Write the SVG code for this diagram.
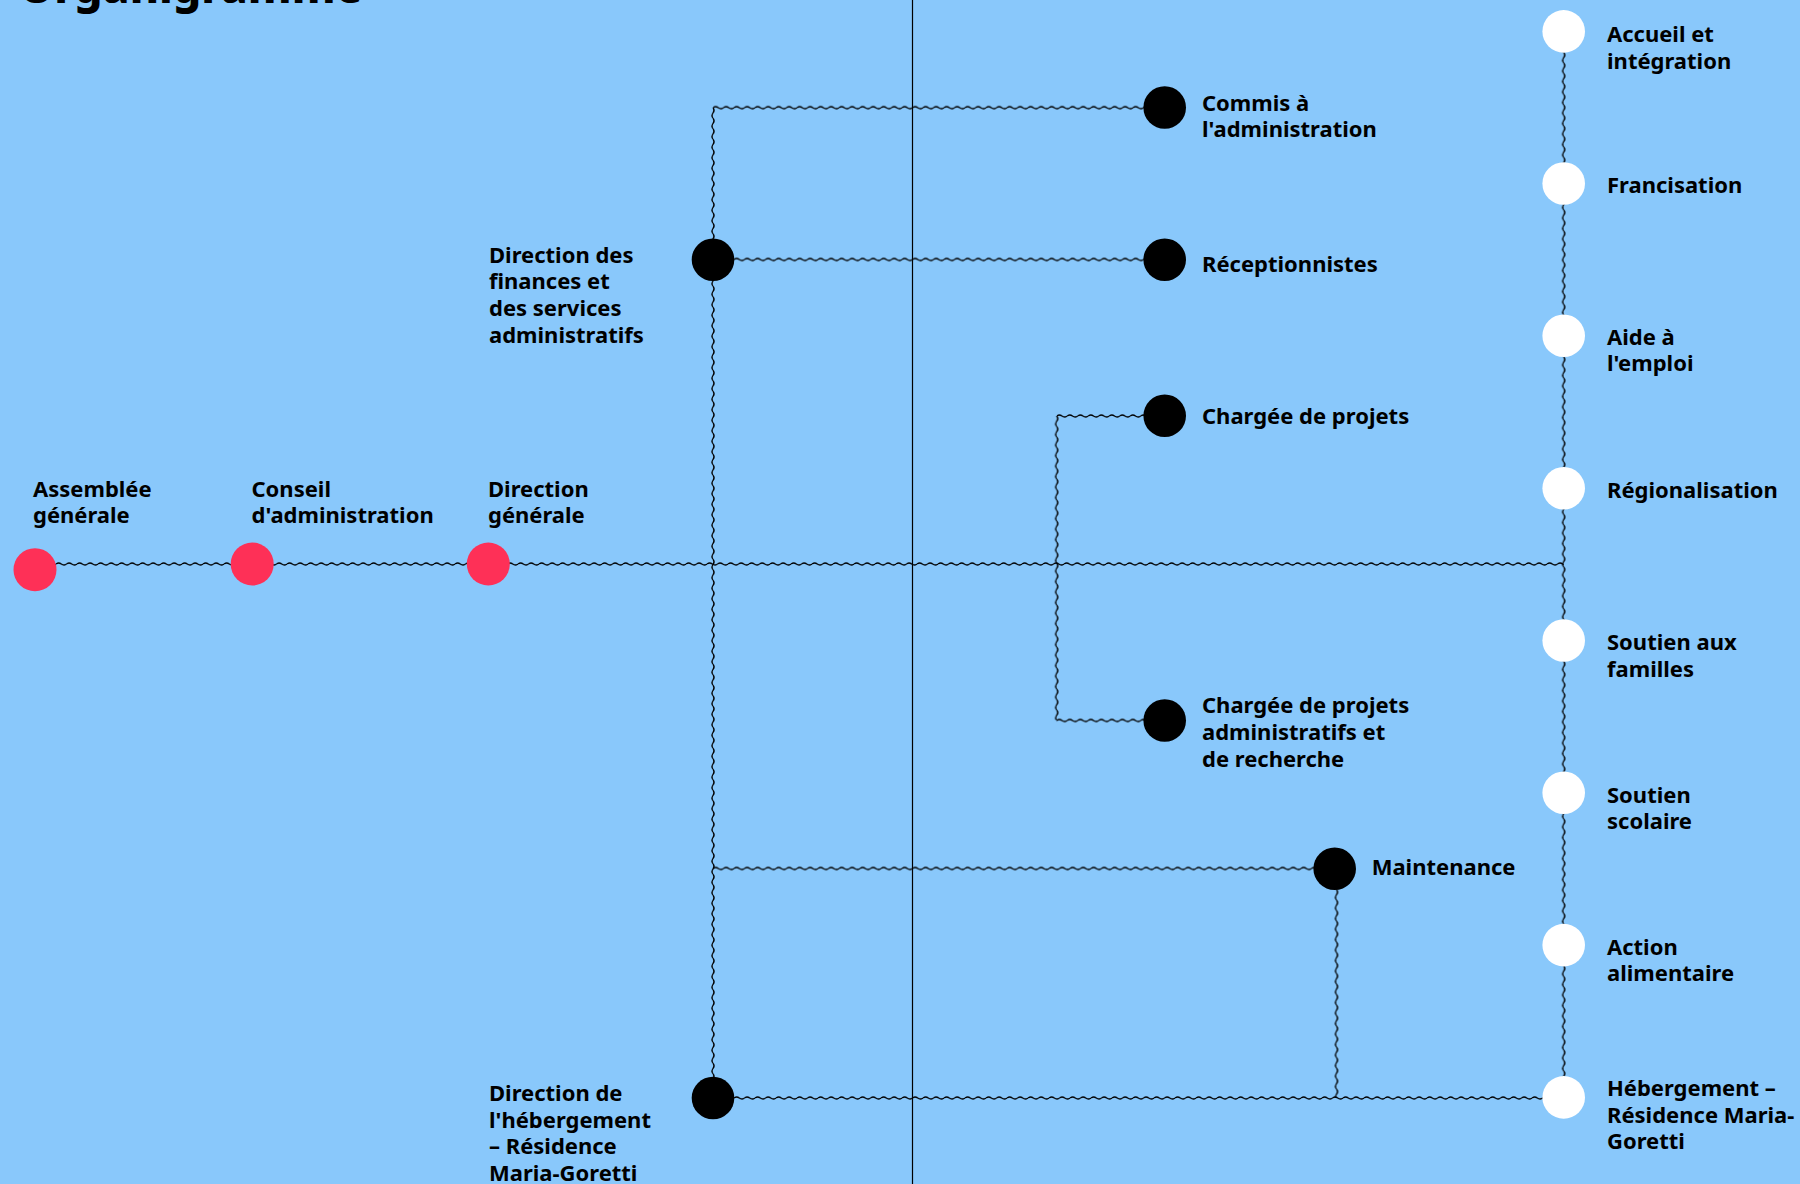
<svg xmlns="http://www.w3.org/2000/svg" width="1800" height="1184" viewBox="0 0 1800 1184">
<defs>
<pattern id="wv" patternUnits="userSpaceOnUse" x="0" y="-3" width="10.5" height="6">
<path d="M0,3 Q2.625,1 5.25,3 T10.5,3" fill="none" stroke="#000" stroke-width="1.3"/>
</pattern>
<style>
.w{stroke:url(#wv);stroke-width:6;stroke-linecap:butt;fill:none}
.t{font-family:"Noto Sans","Open Sans","DejaVu Sans",sans-serif;font-weight:700;font-size:22px;fill:#000}
.red{fill:#FE3057}
.blk{fill:#000}
.wht{fill:#fff}
</style>
</defs>
<rect width="1800" height="1184" fill="#89C8FB"/>
<text x="19" y="3" class="t" style="font-size:44.5px;font-weight:800">Organigramme</text>
<line x1="912.5" y1="0" x2="912.5" y2="1184" stroke="#000" stroke-width="1.2"/>
<g id="connectors">
<line x1="0" y1="0" x2="1528.7" y2="0" transform="translate(35,564)" class="w"/>
<line x1="0" y1="0" x2="990.3" y2="0" transform="translate(713,107.7) rotate(90)" class="w"/>
<line x1="0" y1="0" x2="451.7" y2="0" transform="translate(713,107.7)" class="w"/>
<line x1="0" y1="0" x2="451.7" y2="0" transform="translate(713,259.5)" class="w"/>
<line x1="0" y1="0" x2="108" y2="0" transform="translate(1056.7,416)" class="w"/>
<line x1="0" y1="0" x2="304.5" y2="0" transform="translate(1056.7,416) rotate(90)" class="w"/>
<line x1="0" y1="0" x2="108" y2="0" transform="translate(1056.7,720.5)" class="w"/>
<line x1="0" y1="0" x2="621.7" y2="0" transform="translate(713,868.5)" class="w"/>
<line x1="0" y1="0" x2="229.5" y2="0" transform="translate(1336.5,868.5) rotate(90)" class="w"/>
<line x1="0" y1="0" x2="850.7" y2="0" transform="translate(713,1098)" class="w"/>
<line x1="0" y1="0" x2="1066.3" y2="0" transform="translate(1563.7,31.4) rotate(90)" class="w"/>
</g>
<g id="assemblee"><circle cx="35" cy="569.7" r="21.5" class="red"/><text class="t" x="33" y="496.5">Assemblée<tspan x="33" dy="26">générale</tspan></text></g>
<g id="conseil"><circle cx="252.2" cy="564" r="21.5" class="red"/><text class="t" x="251.5" y="496.5">Conseil<tspan x="251.5" dy="26">d'administration</tspan></text></g>
<g id="direction-generale"><circle cx="488.3" cy="564" r="21.5" class="red"/><text class="t" x="488" y="496.5">Direction<tspan x="488" dy="26">générale</tspan></text></g>
<g id="direction-finances"><circle cx="713" cy="259.7" r="21.3" class="blk"/><text class="t" x="489" y="262.7">Direction des<tspan x="489" dy="26.7">finances et</tspan><tspan x="489" dy="26.7">des services</tspan><tspan x="489" dy="26.7">administratifs</tspan></text></g>
<g id="direction-hebergement"><circle cx="713" cy="1098" r="21.3" class="blk"/><text class="t" x="489" y="1101">Direction de<tspan x="489" dy="26.5">l'hébergement</tspan><tspan x="489" dy="26.5">– Résidence</tspan><tspan x="489" dy="26.5">Maria-Goretti</tspan></text></g>
<g id="commis"><circle cx="1164.7" cy="107.5" r="21.3" class="blk"/><text class="t" x="1202" y="110.5">Commis à<tspan x="1202" dy="26.5">l'administration</tspan></text></g>
<g id="receptionnistes"><circle cx="1164.7" cy="259.7" r="21.3" class="blk"/><text class="t" x="1202" y="271.5">Réceptionnistes</text></g>
<g id="chargee-projets"><circle cx="1164.7" cy="415.8" r="21.3" class="blk"/><text class="t" x="1202" y="424">Chargée de projets</text></g>
<g id="chargee-projets-admin"><circle cx="1164.7" cy="720.5" r="21.3" class="blk"/><text class="t" x="1202" y="713.3">Chargée de projets<tspan x="1202" dy="26.6">administratifs et</tspan><tspan x="1202" dy="26.6">de recherche</tspan></text></g>
<g id="maintenance"><circle cx="1334.7" cy="868.7" r="21.3" class="blk"/><text class="t" x="1371.7" y="875">Maintenance</text></g>
<g id="accueil"><circle cx="1563.7" cy="31.4" r="21.3" class="wht"/><text class="t" x="1607" y="42">Accueil et<tspan x="1607" dy="26.5">intégration</tspan></text></g>
<g id="francisation"><circle cx="1563.7" cy="183.5" r="21.3" class="wht"/><text class="t" x="1607" y="192.5">Francisation</text></g>
<g id="aide-emploi"><circle cx="1563.7" cy="335.8" r="21.3" class="wht"/><text class="t" x="1607" y="344.5">Aide à<tspan x="1607" dy="26.5">l'emploi</tspan></text></g>
<g id="regionalisation"><circle cx="1563.7" cy="488.2" r="21.3" class="wht"/><text class="t" x="1607" y="497.5">Régionalisation</text></g>
<g id="soutien-familles"><circle cx="1563.7" cy="640.5" r="21.3" class="wht"/><text class="t" x="1607" y="650.3">Soutien aux<tspan x="1607" dy="26.3">familles</tspan></text></g>
<g id="soutien-scolaire"><circle cx="1563.7" cy="792.8" r="21.3" class="wht"/><text class="t" x="1607" y="803">Soutien<tspan x="1607" dy="26.3">scolaire</tspan></text></g>
<g id="action-alimentaire"><circle cx="1563.7" cy="945.1" r="21.3" class="wht"/><text class="t" x="1607" y="955">Action<tspan x="1607" dy="26.3">alimentaire</tspan></text></g>
<g id="hebergement-residence"><circle cx="1563.7" cy="1097.4" r="21.3" class="wht"/><text class="t" x="1607" y="1096">Hébergement –<tspan x="1607" dy="26.5">Résidence Maria-</tspan><tspan x="1607" dy="26.5">Goretti</tspan></text></g>
</svg>
